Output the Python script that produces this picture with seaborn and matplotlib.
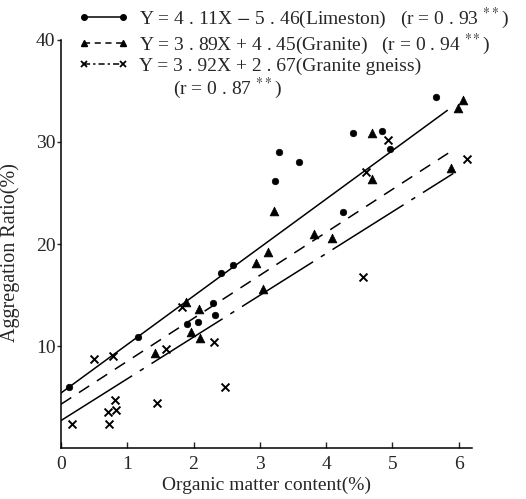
"""Aggregation ratio vs organic matter content, three parent materials"""

import numpy as np
import pandas as pd
import matplotlib
matplotlib.use("Agg")
import matplotlib.pyplot as plt
from matplotlib.lines import Line2D
import seaborn as sns

sns.set_style("ticks")
plt.rcParams['font.family'] = ['Liberation Serif', 'DejaVu Serif']
plt.rcParams['mathtext.fontset'] = 'stix'

# values
lime_x = [0.12, 1.16, 1.90, 2.06, 2.30, 2.32, 2.42, 2.60, 3.23, 3.29,
          3.59, 4.25, 4.41, 4.84, 4.97, 5.66]
lime_y = [5.95, 10.9, 12.2, 12.4, 14.2, 13.0, 17.2, 17.9, 26.2, 29.0,
          28.0, 23.1, 30.85, 31.1, 29.3, 34.4]

granite_x = [1.42, 1.88, 1.96, 2.09, 2.10, 2.95, 3.05, 3.13, 3.22, 3.82,
             4.09, 4.69, 4.70, 5.89, 5.99, 6.07]
granite_y = [9.3, 14.3, 11.4, 13.6, 10.8, 18.1, 15.6, 19.2, 23.2, 21.0,
             20.6, 26.4, 30.9, 27.4, 33.3, 34.1]

gneiss_x = [0.17, 0.50, 0.73, 0.71, 0.83, 0.81, 0.79, 1.45, 1.58, 1.83,
            2.31, 2.47, 4.56, 4.60, 4.94, 6.13]
gneiss_y = [2.4, 8.7, 2.35, 3.5, 3.7, 4.7, 9.0, 4.4, 9.7, 13.8,
            10.4, 5.95, 16.8, 27.1, 30.2, 28.3]

# fitted lines as drawn (intercept, slope, end of line)
fit_intercept = [5.4, 4.3, 2.7]
fit_slope = [4.75, 4.21, 4.09]
fit_xend = [5.83, 5.94, 5.92]

labels = [
    "Y = 4 . 11X $-$ 5 . 46(Limeston)   (r = 0 . 93 $^{**}$)",
    "Y = 3 . 89X + 4 . 45(Granite)   (r = 0 . 94 $^{**}$)",
    "Y = 3 . 92X + 2 . 67(Granite gneiss)",
    "       (r = 0 . 87 $^{**}$)",
]

x_ticks = [0, 1, 2, 3, 4, 5, 6]
y_ticks = [10, 20, 30, 40]

df = pd.concat([
    pd.DataFrame({'om': lime_x, 'ar': lime_y, 'rock': 'Limeston'}),
    pd.DataFrame({'om': granite_x, 'ar': granite_y, 'rock': 'Granite'}),
    pd.DataFrame({'om': gneiss_x, 'ar': gneiss_y, 'rock': 'Granite gneiss'}),
])

fig = plt.figure(figsize=(5.26, 4.99), dpi=100)
ax = fig.add_axes([0.116, 0.102, 0.781, 0.818])

styles = {
    'Limeston': dict(marker='o', s=22, dash=None),
    'Granite': dict(marker='^', s=40, dash=(8, 6)),
    'Granite gneiss': dict(marker='x', s=32, dash=(55, 6, 3, 6)),
}

for i, rock in enumerate(['Limeston', 'Granite', 'Granite gneiss']):
    sub = df[df['rock'] == rock]
    st = styles[rock]
    if st['marker'] == 'x':
        sns.scatterplot(data=sub, x='om', y='ar', marker='x', s=st['s'],
                        color='black', linewidth=1.4, ax=ax, zorder=3)
    else:
        sns.scatterplot(data=sub, x='om', y='ar', marker=st['marker'], s=st['s'],
                        color='black', edgecolor='black', linewidth=0.5, ax=ax, zorder=3)
    xs = np.array([0, fit_xend[i]])
    ys = fit_intercept[i] + fit_slope[i] * xs
    line, = ax.plot(xs, ys, color='black', linewidth=1.1, zorder=2)
    if st['dash'] is not None:
        line.set_dashes(st['dash'])

ax.set_xlim(0, 6.2)
ax.set_ylim(0, 40)
ax.set_xticks(x_ticks)
ax.set_yticks(y_ticks)
ax.tick_params(axis='x', direction='in', length=4, width=1, labelsize=14, pad=6)
ax.tick_params(axis='y', direction='out', length=3, width=1, labelsize=14, pad=1)
sns.despine(ax=ax)
for sp in ['left', 'bottom']:
    ax.spines[sp].set_linewidth(1.1)
    ax.spines[sp].set_color('black')

ax.set_xlabel("Organic matter content(%)", fontsize=14, labelpad=2)
ax.set_ylabel("Aggregation Ratio(%)", fontsize=14.5)
ax.yaxis.set_label_coords(-0.1, 0.48)

handles = [
    Line2D([0], [0], color='black', lw=1.1, marker='o', markersize=4),
    Line2D([0], [0], color='black', lw=1.1, marker='^', markersize=5, dashes=(4, 3)),
    Line2D([0], [0], color='black', lw=1.1, marker='x', markersize=5,
           markeredgewidth=1.3, dashes=(4, 2, 1.5, 2)),
    Line2D([0], [0], color='none', lw=0),
]
leg = fig.legend(handles, labels, loc='upper left', bbox_to_anchor=(0.148, 0.988),
                 frameon=False, numpoints=2, handlelength=2.6, handletextpad=0.55,
                 labelspacing=0.02, borderpad=0, borderaxespad=0, fontsize=14)

fig.savefig("out.png", dpi=100)
